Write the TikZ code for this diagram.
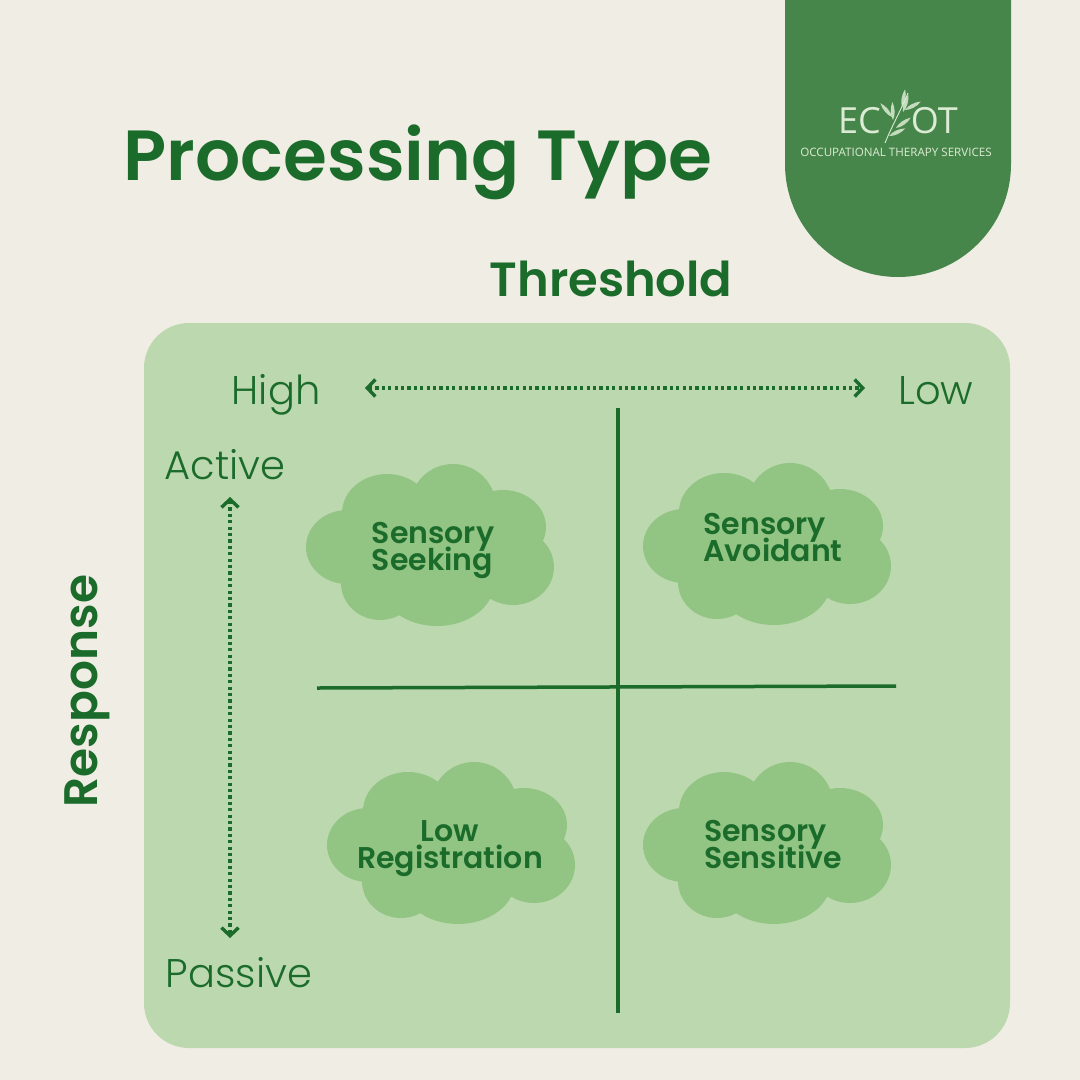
\documentclass[tikz,border=0pt]{standalone}
\usepackage{fontspec}
\setmainfont{Poppins}
\newfontfamily\headfont{Poppins SemiBold}
\newfontfamily\thinfont{Poppins Light}
\newfontfamily\logofont{Open Sans}
\usetikzlibrary{arrows.meta}

\definecolor{bgcream}{HTML}{F0EDE4}
\definecolor{panelgreen}{HTML}{BCD8AE}
\definecolor{cloudgreen}{HTML}{92C583}
\definecolor{tabgreen}{HTML}{47864B}
\definecolor{inkgreen}{HTML}{1B6B2B}
\definecolor{logopale}{HTML}{DCEBD3}

\newcommand{\tightlines}{\lineskiplimit=-20pt\relax}
% one cloud, drawn round its centre
\newcommand{\cloudat}[2]{
	\fill[cloudgreen, shift={(#1,#2)}]
		(23,-38) ellipse [x radius=43, y radius=43]
		(-43,-32) ellipse [x radius=45, y radius=39]
		(73,-18) ellipse [x radius=43, y radius=37]
		(83,22) ellipse [x radius=41, y radius=38]
		(7,38) ellipse [x radius=57, y radius=43]
		(-50,38) ellipse [x radius=39, y radius=37]
		(-83,2) ellipse [x radius=41, y radius=37]
		(0,0) ellipse [x radius=90, y radius=40];
}
% one leaf of the logo sprig
\newcommand{\leafat}[3]{
	\fill[logopale, opacity=0.85, shift={(#1,#2)}, rotate=#3] (0,0) .. controls (5,-2.6) and (12,-2.6) .. (18,0) .. controls (12,2.6) and (5,2.6) .. (0,0);
}

\begin{document}
\begin{tikzpicture}
		[
			x=1pt, y=-1pt,
			headline/.style={font=\headfont\fontsize{71}{71}\selectfont, text=inkgreen, anchor=base, inner sep=0pt},
			subhead/.style={font=\headfont\fontsize{48}{48}\selectfont, text=inkgreen, anchor=base, inner sep=0pt},
			axislabel/.style={font=\thinfont\fontsize{40}{40}\selectfont, text=inkgreen, anchor=base, inner sep=0pt},
			cloudlabel/.style={font=\headfont\fontsize{30}{27}\selectfont\tightlines, text=inkgreen, align=left, inner sep=0pt},
			divider/.style={draw=inkgreen, line width=3.5pt},
			scalearrow/.style={draw=inkgreen, line width=3.4pt, dash pattern=on 3.2pt off 3.2pt, {Straight Barb[length=8pt, width=17pt, line width=3.4pt]}-{Straight Barb[length=8pt, width=17pt, line width=3.4pt]}}
		]

		\useasboundingbox (0,0) rectangle (1080,1080);
		\fill[bgcream] (0,0) rectangle (1080,1080);
		\fill[panelgreen, rounded corners=45pt] (144,323) rectangle (1010,1048);

		% logo tab
		\fill[tabgreen] (785,0) -- (785,164) arc [start angle=180, end angle=360, x radius=113, y radius=-113] -- (1011,0) -- cycle;
		\node (logomark) [font=\logofont\fontsize{36}{36}\selectfont, text=logopale, anchor=base, inner sep=0pt] at (898,133) {EC\hspace{30pt}OT};
		\node (logotext) [font=\logofont\fontsize{11.6}{12}\selectfont, text=logopale, anchor=base, inner sep=0pt] at (896,156) {OCCUPATIONAL THERAPY SERVICES};
		\draw[logopale, line width=0.9pt] (885,143) .. controls (891,128) and (899,114) .. (908,93);
		\leafat{892}{117}{130}
		\leafat{893}{120}{92}
		\leafat{902}{107}{80}
		\leafat{903}{112}{73}
		\leafat{905}{110}{28}
		\leafat{896}{128}{35}
		\leafat{889}{136}{25}

		% titles
		\node (title) [headline] at (418,180) {Processing Type};
		\node (threshold) [subhead] at (611,296) {Threshold};
		\node (response) [subhead, font=\headfont\fontsize{47}{47}\selectfont, rotate=90] at (97,691) {Response};

		% axis ends
		\node (high) [axislabel] at (276,404) {High};
		\node (low) [axislabel] at (936,404) {Low};
		\node (active) [axislabel] at (225,479) {Active};
		\node (passive) [axislabel] at (239,987) {Passive};

		\coordinate (hleft) at (365,388);
		\coordinate (hright) at (865,388);
		\coordinate (vtop) at (230,497);
		\coordinate (vbottom) at (230,938);
		\draw[scalearrow] (hleft) -- (hright);
		\draw[scalearrow] (vtop) -- (vbottom);

		% quadrant lines
		\coordinate (ntop) at (618,408);
		\coordinate (nbottom) at (618,1013);
		\coordinate (wend) at (317,688);
		\coordinate (eend) at (896,686);
		\draw[divider] (ntop) -- (nbottom);
		\draw[divider] (wend) -- (eend);

		% quadrants
		\cloudat{430}{545}
		\cloudat{767}{544}
		\cloudat{451}{843}
		\cloudat{767}{843}
		\node (seeking) [cloudlabel] at (433,550) {Sensory\\Seeking};
		\node (avoidant) [cloudlabel] at (773,538) {Sensory\\Avoidant};
		\node (registration) [cloudlabel, align=center] at (450,849) {Low\\Registration};
		\node (sensitive) [cloudlabel] at (773,845) {Sensory\\Sensitive};
	\end{tikzpicture}
\end{document}
